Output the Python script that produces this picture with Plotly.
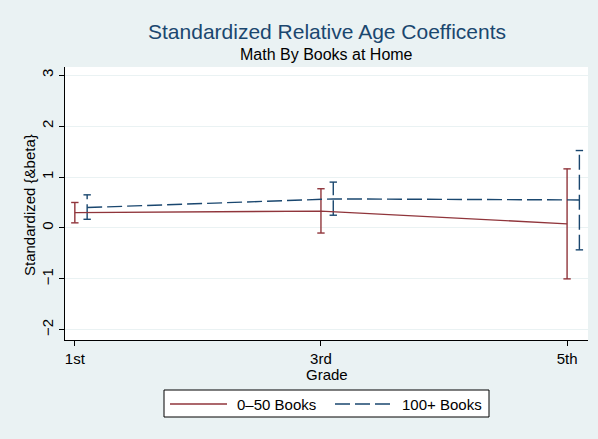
import plotly.graph_objects as go

grades = [1, 3, 5]
grade_labels = ["1st", "3rd", "5th"]
offset_blue = 0.1

low_est = [0.30, 0.33, 0.08]
low_lo = [0.10, -0.10, -1.00]
low_hi = [0.50, 0.77, 1.16]

high_est = [0.40, 0.57, 0.55]
high_lo = [0.17, 0.25, -0.43]
high_hi = [0.65, 0.90, 1.52]

series_names = ["0\u201350 Books", "100+ Books"]

RED = "#90353b"
BLUE = "#1a476f"
CAP = 0.03
FONT = "Liberation Sans, Arial, sans-serif"
W, H = 598, 439
ML, MR, MT, MB = 65, 10, 67, 99
PW = W - ML - MR
PH = H - MT - MB
DASH = "15px,5px"
LW = 1.4


def err_segments(xs, lo, hi):
    X, Y = [], []
    for x, a, b in zip(xs, lo, hi):
        X += [x, x, None, x - CAP, x + CAP, None, x - CAP, x + CAP, None]
        Y += [a, b, None, a, a, None, b, b, None]
    return X, Y


def py(ypx):
    return (H - MB - ypx) / PH


def px(xpx):
    return (xpx - ML) / PW


fig = go.Figure()
bx = [g + offset_blue for g in grades]

rx, ry = err_segments(grades, low_lo, low_hi)
fig.add_trace(go.Scatter(x=rx, y=ry, mode="lines", line=dict(color=RED, width=LW),
                         showlegend=False, hoverinfo="skip"))
bxs, bys = err_segments(bx, high_lo, high_hi)
fig.add_trace(go.Scatter(x=bxs, y=bys, mode="lines", line=dict(color=BLUE, width=LW, dash=DASH),
                         showlegend=False, hoverinfo="skip"))

fig.add_trace(go.Scatter(x=grades, y=low_est, mode="lines", name=series_names[0],
                         line=dict(color=RED, width=LW), showlegend=False))
fig.add_trace(go.Scatter(x=bx, y=high_est, mode="lines", name=series_names[1],
                         line=dict(color=BLUE, width=LW, dash=DASH), showlegend=False))

# legend drawn as a box with line samples and labels (Stata style, long keys)
LEG_Y = 404
shapes = [
    dict(type="rect", xref="paper", yref="paper", x0=px(164), x1=px(489),
         y0=py(417), y1=py(390), line=dict(color="black", width=1), fillcolor="white"),
    dict(type="line", xref="paper", yref="paper", x0=px(170), x1=px(227),
         y0=py(LEG_Y), y1=py(LEG_Y), line=dict(color=RED, width=LW)),
    dict(type="line", xref="paper", yref="paper", x0=px(335), x1=px(395),
         y0=py(LEG_Y), y1=py(LEG_Y), line=dict(color=BLUE, width=LW, dash=DASH)),
]

annotations = [
    dict(text="Standardized Relative Age Coefficents", x=0.5, xref="paper",
         y=py(31), yref="paper", yanchor="middle", showarrow=False,
         font=dict(size=21, color=BLUE)),
    dict(text="Math By Books at Home", x=0.5, xref="paper",
         y=py(55), yref="paper", yanchor="middle", showarrow=False,
         font=dict(size=16, color="black")),
    dict(text="Grade", x=0.5, xref="paper", y=py(374), yref="paper",
         yanchor="middle", showarrow=False, font=dict(size=15)),
    dict(text="Standardized {&beta}", x=px(29), xref="paper", y=py(205), yref="paper",
         xanchor="center", yanchor="middle", textangle=-90, showarrow=False,
         font=dict(size=15)),
    dict(text=series_names[0], x=px(235), xref="paper", y=py(LEG_Y), yref="paper",
         xanchor="left", yanchor="middle", showarrow=False, font=dict(size=15)),
    dict(text=series_names[1], x=px(400), xref="paper", y=py(LEG_Y), yref="paper",
         xanchor="left", yanchor="middle", showarrow=False, font=dict(size=15)),
]

fig.update_layout(
    width=W, height=H,
    margin=dict(l=ML, r=MR, t=MT, b=MB),
    paper_bgcolor="#eaf2f3", plot_bgcolor="white",
    font=dict(family=FONT, size=15, color="black"),
    showlegend=False,
    shapes=shapes,
    annotations=annotations,
)

fig.update_xaxes(range=[0.92, 5.17], tickvals=grades, ticktext=grade_labels,
                 showgrid=False, showline=True, linecolor="black", linewidth=1,
                 ticks="outside", ticklen=5, tickcolor="black", zeroline=False,
                 automargin=False, tickfont=dict(size=15))
fig.update_yaxes(range=[-2.2, 3.16], tickvals=[-2, -1, 0, 1, 2, 3],
                 ticktext=["\u22122", "\u22121", "0", "1", "2", "3"], tickangle=-90,
                 showgrid=True, gridcolor="#eaf2f3", gridwidth=1,
                 showline=True, linecolor="black", linewidth=1,
                 ticks="outside", ticklen=5, tickcolor="black", zeroline=False,
                 automargin=False, tickfont=dict(size=15))

fig.write_html("out.html", config={"displayModeBar": False},
               post_script="document.body.style.margin='0';")
